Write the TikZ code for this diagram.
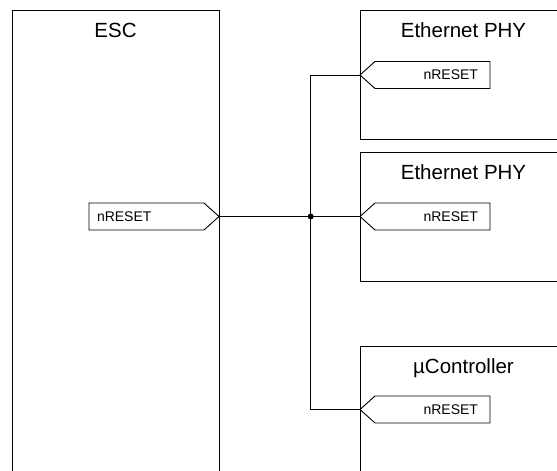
\documentclass[tikz,border=0pt]{standalone}
\usepackage{fontspec}
\setmainfont{Liberation Sans}
\usetikzlibrary{shapes.symbols}

\begin{document}
\begin{tikzpicture}[x=1pt, y=-1pt, line width=0.9pt,
  every node/.style={outer sep=0pt},
  chip/.style={draw, rectangle, anchor=north west, minimum width=207pt, inner sep=0pt},
  chipname/.style={anchor=base, font=\fontsize{20.5}{24}\selectfont},
  pinout/.style={draw, shape=signal, signal to=east, signal pointer angle=84, anchor=east,
    minimum height=27pt, inner xsep=8pt, text width=99pt, align=left, font=\fontsize{14}{16}\selectfont},
  pinin/.style={draw, shape=signal, signal to=west, signal pointer angle=84, anchor=west,
    minimum height=27pt, inner xsep=12pt, text width=91pt, align=right, font=\fontsize{14}{16}\selectfont}]
\useasboundingbox (0,0) rectangle (557,471);
\clip (0,0) rectangle (557,471);

% chips
\node[chip, minimum height=480pt] (esc) at (12,10) {};
\node[chip, minimum height=129pt] (phya) at (360,10) {};
\node[chip, minimum height=129pt] (phyb) at (360,152) {};
\node[chip, minimum height=200pt] (mcu) at (360,346) {};

\node[chipname] (escname) at ([yshift=-27.7pt]esc.north) {ESC};
\node[chipname] (phyaname) at ([yshift=-27.7pt]phya.north) {Ethernet PHY};
\node[chipname] (phybname) at ([yshift=-27.7pt]phyb.north) {Ethernet PHY};
\node[chipname] (mcuname) at ([yshift=-27.7pt]mcu.north) {µController};

% reset pins
\node[pinout] (escrst) at (219,216.5) {nRESET};
\node[pinin] (phyarst) at (360,75) {nRESET};
\node[pinin] (phybrst) at (360,216.5) {nRESET};
\node[pinin] (mcurst) at (360,409.5) {nRESET};

% reset net
\coordinate (junction) at (310.7,216.5);
\draw (escrst.east) -- (junction) -- (phybrst.west);
\draw (phyarst.west) -| (junction) |- (mcurst.west);
\fill (junction) circle (3pt);
\end{tikzpicture}
\end{document}
